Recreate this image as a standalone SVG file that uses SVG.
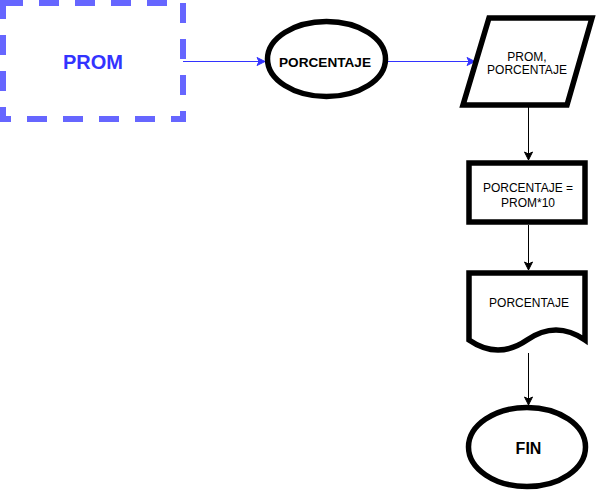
<svg xmlns="http://www.w3.org/2000/svg" width="596" height="491" viewBox="0 0 596 491">
<style>
  text { font-family: "Liberation Sans", Arial, sans-serif; text-anchor: middle; fill: #000; }
  .shape { fill: #fff; stroke: #000; stroke-width: 5.5; }
  .lbl { font-size: 12px; }
  .blue { stroke: #3333FF; stroke-width: 1; fill: none; }
  .black { stroke: #000; stroke-width: 1; fill: none; }
</style>
<defs>
  <marker id="arrB" markerUnits="userSpaceOnUse" markerWidth="10" markerHeight="10" viewBox="0 0 10 10" refX="9" refY="5" orient="auto">
    <path d="M1,1 L9,5 L1,9 L3,5 Z" fill="#3333FF" stroke="#3333FF" stroke-width="1"/>
  </marker>
  <marker id="arrK" markerUnits="userSpaceOnUse" markerWidth="10" markerHeight="10" viewBox="0 0 10 10" refX="9" refY="5" orient="auto">
    <path d="M1,1 L9,5 L1,9 L3,5 Z" fill="#000" stroke="#000" stroke-width="1"/>
  </marker>
</defs>

<g id="connectors">
  <line class="blue" x1="183" y1="61.5" x2="265" y2="61.5" marker-end="url(#arrB)"/>
  <line class="blue" x1="388" y1="61.5" x2="475" y2="61.5" marker-end="url(#arrB)"/>
  <line class="black" x1="528.5" y1="107" x2="528.5" y2="160" marker-end="url(#arrK)"/>
  <line class="black" x1="528.5" y1="225" x2="528.5" y2="270" marker-end="url(#arrK)"/>
  <line class="black" x1="528.5" y1="353" x2="528.5" y2="405" marker-end="url(#arrK)"/>
</g>

<g id="node-prom">
  <rect x="3" y="3" width="180" height="116" fill="#fff" stroke="#6666FF" stroke-width="6" stroke-dasharray="20 16"/>
  <text x="93" y="69" style="font-size:20px;font-weight:bold;fill:#3333FF">PROM</text>
</g>

<g id="node-porcentaje-start">
  <ellipse class="shape" cx="326.5" cy="59" rx="59" ry="37.5"/>
  <text x="325" y="66.5" style="font-size:13.6px;font-weight:bold">PORCENTAJE</text>
</g>

<g id="node-input">
  <polygon class="shape" points="489,18 592,18 567,105 463,105"/>
  <text class="lbl" x="527" y="60.5">PROM,</text>
  <text class="lbl" x="527" y="74">PORCENTAJE</text>
</g>

<g id="node-process">
  <rect class="shape" x="469" y="163" width="116" height="59"/>
  <text class="lbl" x="528" y="192">PORCENTAJE =</text>
  <text class="lbl" x="528" y="207">PROM*10</text>
</g>

<g id="node-output">
  <path class="shape" d="M469,273 L585,273 L585,340 Q556,320 527,340 Q498,360 469,340 Z"/>
  <text class="lbl" x="529" y="307">PORCENTAJE</text>
</g>

<g id="node-fin">
  <ellipse class="shape" cx="527" cy="447" rx="58.5" ry="39.5"/>
  <text x="528.5" y="454" style="font-size:16px;font-weight:bold">FIN</text>
</g>
</svg>
